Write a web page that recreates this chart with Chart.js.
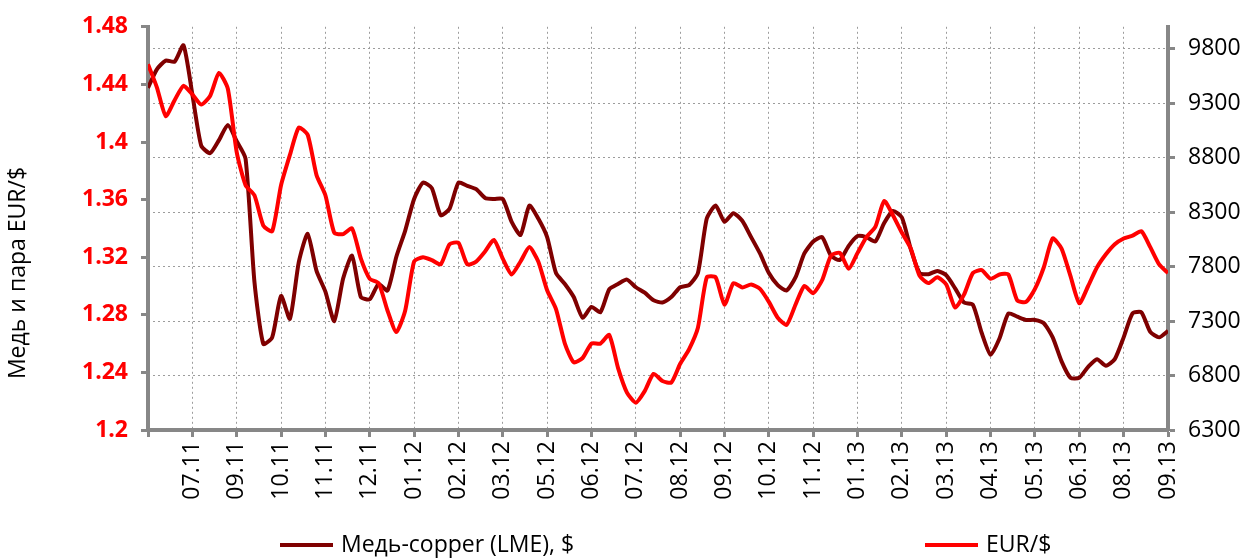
<!DOCTYPE html>
<html>
<head>
<meta charset="utf-8">
<script src="https://cdn.jsdelivr.net/npm/chart.js@4/dist/chart.umd.min.js"></script>
<style>
  body { margin: 0; background: #fff; }
  #wrap { position: relative; width: 1251px; height: 559px; }
  #legend { position: absolute; left: 0; top: 528px; width: 1251px; height: 30px;
            font: 23px "Open Sans", sans-serif; color: #000; }
  #legend .item { position: absolute; top: 0; line-height: 30px; white-space: nowrap; }
  #legend .swatch { display: inline-block; width: 53px; height: 4px; vertical-align: middle;
                    margin-right: 8px; position: relative; top: -1px; }
</style>
</head>
<body>
<div id="wrap">
  <canvas id="chart"></canvas>
  <div id="legend"></div>
</div>
<script>
// tick labels on the date axis (one every 5 samples)
const xLabels = ['07.11','09.11','10.11','11.11','12.11','01.12','02.12','03.12','05.12','06.12',
  '07.12','08.12','09.12','10.12','11.12','01.13','02.13','03.13','04.13','05.13','06.13','08.13','09.13'];
const ptsPerTick = 5;

// copper, LME, $ (right axis)
const copper = [
  9440, 9610, 9690, 9680, 9830, 9380, 8910, 8840, 8960, 9100,
  8950, 8790, 7660, 7090, 7150, 7530, 7320, 7840, 8100, 7760,
  7570, 7300, 7690, 7900, 7520, 7500, 7640, 7580, 7890, 8130,
  8420, 8570, 8520, 8270, 8330, 8570, 8540, 8510, 8430, 8420,
  8420, 8210, 8090, 8360, 8240, 8070, 7740, 7640, 7520, 7330,
  7430, 7380, 7590, 7640, 7680, 7610, 7560, 7490, 7470, 7520,
  7610, 7630, 7740, 8240, 8360, 8210, 8290, 8220, 8070, 7920,
  7740, 7630, 7580, 7700, 7920, 8030, 8070, 7900, 7860, 7990,
  8080, 8070, 8030, 8200, 8310, 8250, 7960, 7740, 7730, 7760,
  7720, 7600, 7470, 7450, 7190, 6990, 7140, 7370, 7340, 7310,
  7310, 7280, 7150, 6930, 6780, 6780, 6880, 6950, 6890, 6950,
  7150, 7370, 7380, 7200, 7150, 7210
];

// EUR/$ (left axis)
const eurusd = [
  1.454, 1.438, 1.418, 1.429, 1.439, 1.433, 1.426, 1.432, 1.448, 1.437,
  1.393, 1.370, 1.363, 1.342, 1.338, 1.370, 1.391, 1.410, 1.405, 1.377,
  1.363, 1.337, 1.336, 1.340, 1.319, 1.305, 1.302, 1.283, 1.268, 1.283,
  1.317, 1.320, 1.318, 1.315, 1.329, 1.330, 1.315, 1.317, 1.324, 1.332,
  1.319, 1.308, 1.317, 1.327, 1.317, 1.297, 1.284, 1.260, 1.247, 1.250,
  1.260, 1.260, 1.266, 1.243, 1.226, 1.219, 1.227, 1.239, 1.234, 1.233,
  1.246, 1.256, 1.271, 1.306, 1.306, 1.287, 1.302, 1.299, 1.301, 1.298,
  1.289, 1.278, 1.273, 1.287, 1.300, 1.295, 1.304, 1.321, 1.323, 1.312,
  1.323, 1.334, 1.341, 1.359, 1.349, 1.337, 1.326, 1.307, 1.302, 1.306,
  1.301, 1.285, 1.294, 1.309, 1.311, 1.305, 1.308, 1.308, 1.290, 1.289,
  1.298, 1.313, 1.333, 1.326, 1.307, 1.288, 1.300, 1.313, 1.322, 1.329,
  1.333, 1.335, 1.338, 1.327, 1.315, 1.309
];

const eurTicks = [1.2, 1.24, 1.28, 1.32, 1.36, 1.4, 1.44, 1.48];
const eurTickLabels = ['1.2', '1.24', '1.28', '1.32', '1.36', '1.4', '1.44', '1.48'];
const copperTicks = [6300, 6800, 7300, 7800, 8300, 8800, 9300, 9800];
const yTitle = 'Медь и пара EUR/$';

const axisGray = '#878787';
const gridGray = '#9c9c9c';

Chart.defaults.font.family = '"Open Sans", sans-serif';
Chart.defaults.font.size = 23;
Chart.defaults.color = '#000';

const toXY = arr => arr.map((v, i) => ({x: i / ptsPerTick, y: v}));

// left title sits lower than the plot centre, like in Excel
const leftTitle = {
  id: 'leftTitle',
  afterDraw(chart) {
    const ctx = chart.ctx;
    ctx.save();
    ctx.translate(18, 273);
    ctx.rotate(-Math.PI / 2);
    ctx.font = '23px "Open Sans", sans-serif';
    ctx.fillStyle = '#000';
    ctx.textAlign = 'center';
    ctx.textBaseline = 'middle';
    ctx.fillText(yTitle, 0, 0);
    ctx.restore();
  }
};

const chart = new Chart(document.getElementById('chart'), {
  type: 'line',
  data: {
    datasets: [
      {
        label: 'Медь-copper (LME), $',
        data: toXY(copper),
        yAxisID: 'yCu',
        borderColor: '#7f0000',
        borderWidth: 4,
        pointRadius: 0,
        tension: 0.2,
        order: 2
      },
      {
        label: 'EUR/$',
        data: toXY(eurusd),
        yAxisID: 'yEur',
        borderColor: '#ff0000',
        borderWidth: 4,
        pointRadius: 0,
        tension: 0.2,
        order: 1
      }
    ]
  },
  plugins: [leftTitle],
  options: {
    responsive: true,
    maintainAspectRatio: false,
    animation: false,
    layout: {padding: {left: 0, right: 0, top: 17, bottom: 52}},
    plugins: {
      legend: {display: false},
      tooltip: {enabled: false}
    },
    scales: {
      x: {
        type: 'linear',
        min: 0,
        max: xLabels.length,
        afterBuildTicks: scale => {
          scale.ticks = [0].concat(xLabels.map((l, i) => i + 1)).map(v => ({value: v}));
        },
        afterFit: scale => { scale.height = 77; },
        ticks: {
          autoSkip: false,
          minRotation: 90,
          maxRotation: 90,
          padding: 4,
          callback: (v, i) => i === 0 ? '' : xLabels[i - 1]
        },
        grid: {color: gridGray, lineWidth: 1, tickColor: axisGray, tickWidth: 3, tickLength: 7},
        border: {color: axisGray, width: 4, dash: [2, 3]}
      },
      yEur: {
        position: 'left',
        min: 1.2,
        max: 1.48,
        afterBuildTicks: scale => { scale.ticks = eurTicks.map(v => ({value: v})); },
        afterFit: scale => { scale.width = 148; },
        ticks: {
          color: '#ff0000',
          font: {weight: 'bold'},
          padding: 13,
          callback: (v, i) => eurTickLabels[i]
        },
        grid: {drawOnChartArea: false, tickColor: axisGray, tickWidth: 3, tickLength: 7},
        border: {color: axisGray, width: 4}
      },
      yCu: {
        position: 'right',
        min: 6300,
        max: 10000,
        afterBuildTicks: scale => { scale.ticks = copperTicks.map(v => ({value: v})); },
        afterFit: scale => { scale.width = 83; },
        ticks: {padding: 13, callback: v => String(v)},
        grid: {color: gridGray, lineWidth: 1, tickColor: axisGray, tickWidth: 3, tickLength: 7},
        border: {color: axisGray, width: 4, dash: [2, 3]}
      }
    }
  }
});

// legend under the chart, built from the datasets
const legendPos = [280, 925];
const legend = document.getElementById('legend');
chart.data.datasets.forEach((ds, i) => {
  const item = document.createElement('span');
  item.className = 'item';
  item.style.left = legendPos[i] + 'px';
  const sw = document.createElement('span');
  sw.className = 'swatch';
  sw.style.background = ds.borderColor;
  item.appendChild(sw);
  item.appendChild(document.createTextNode(ds.label));
  legend.appendChild(item);
});
</script>
</body>
</html>
